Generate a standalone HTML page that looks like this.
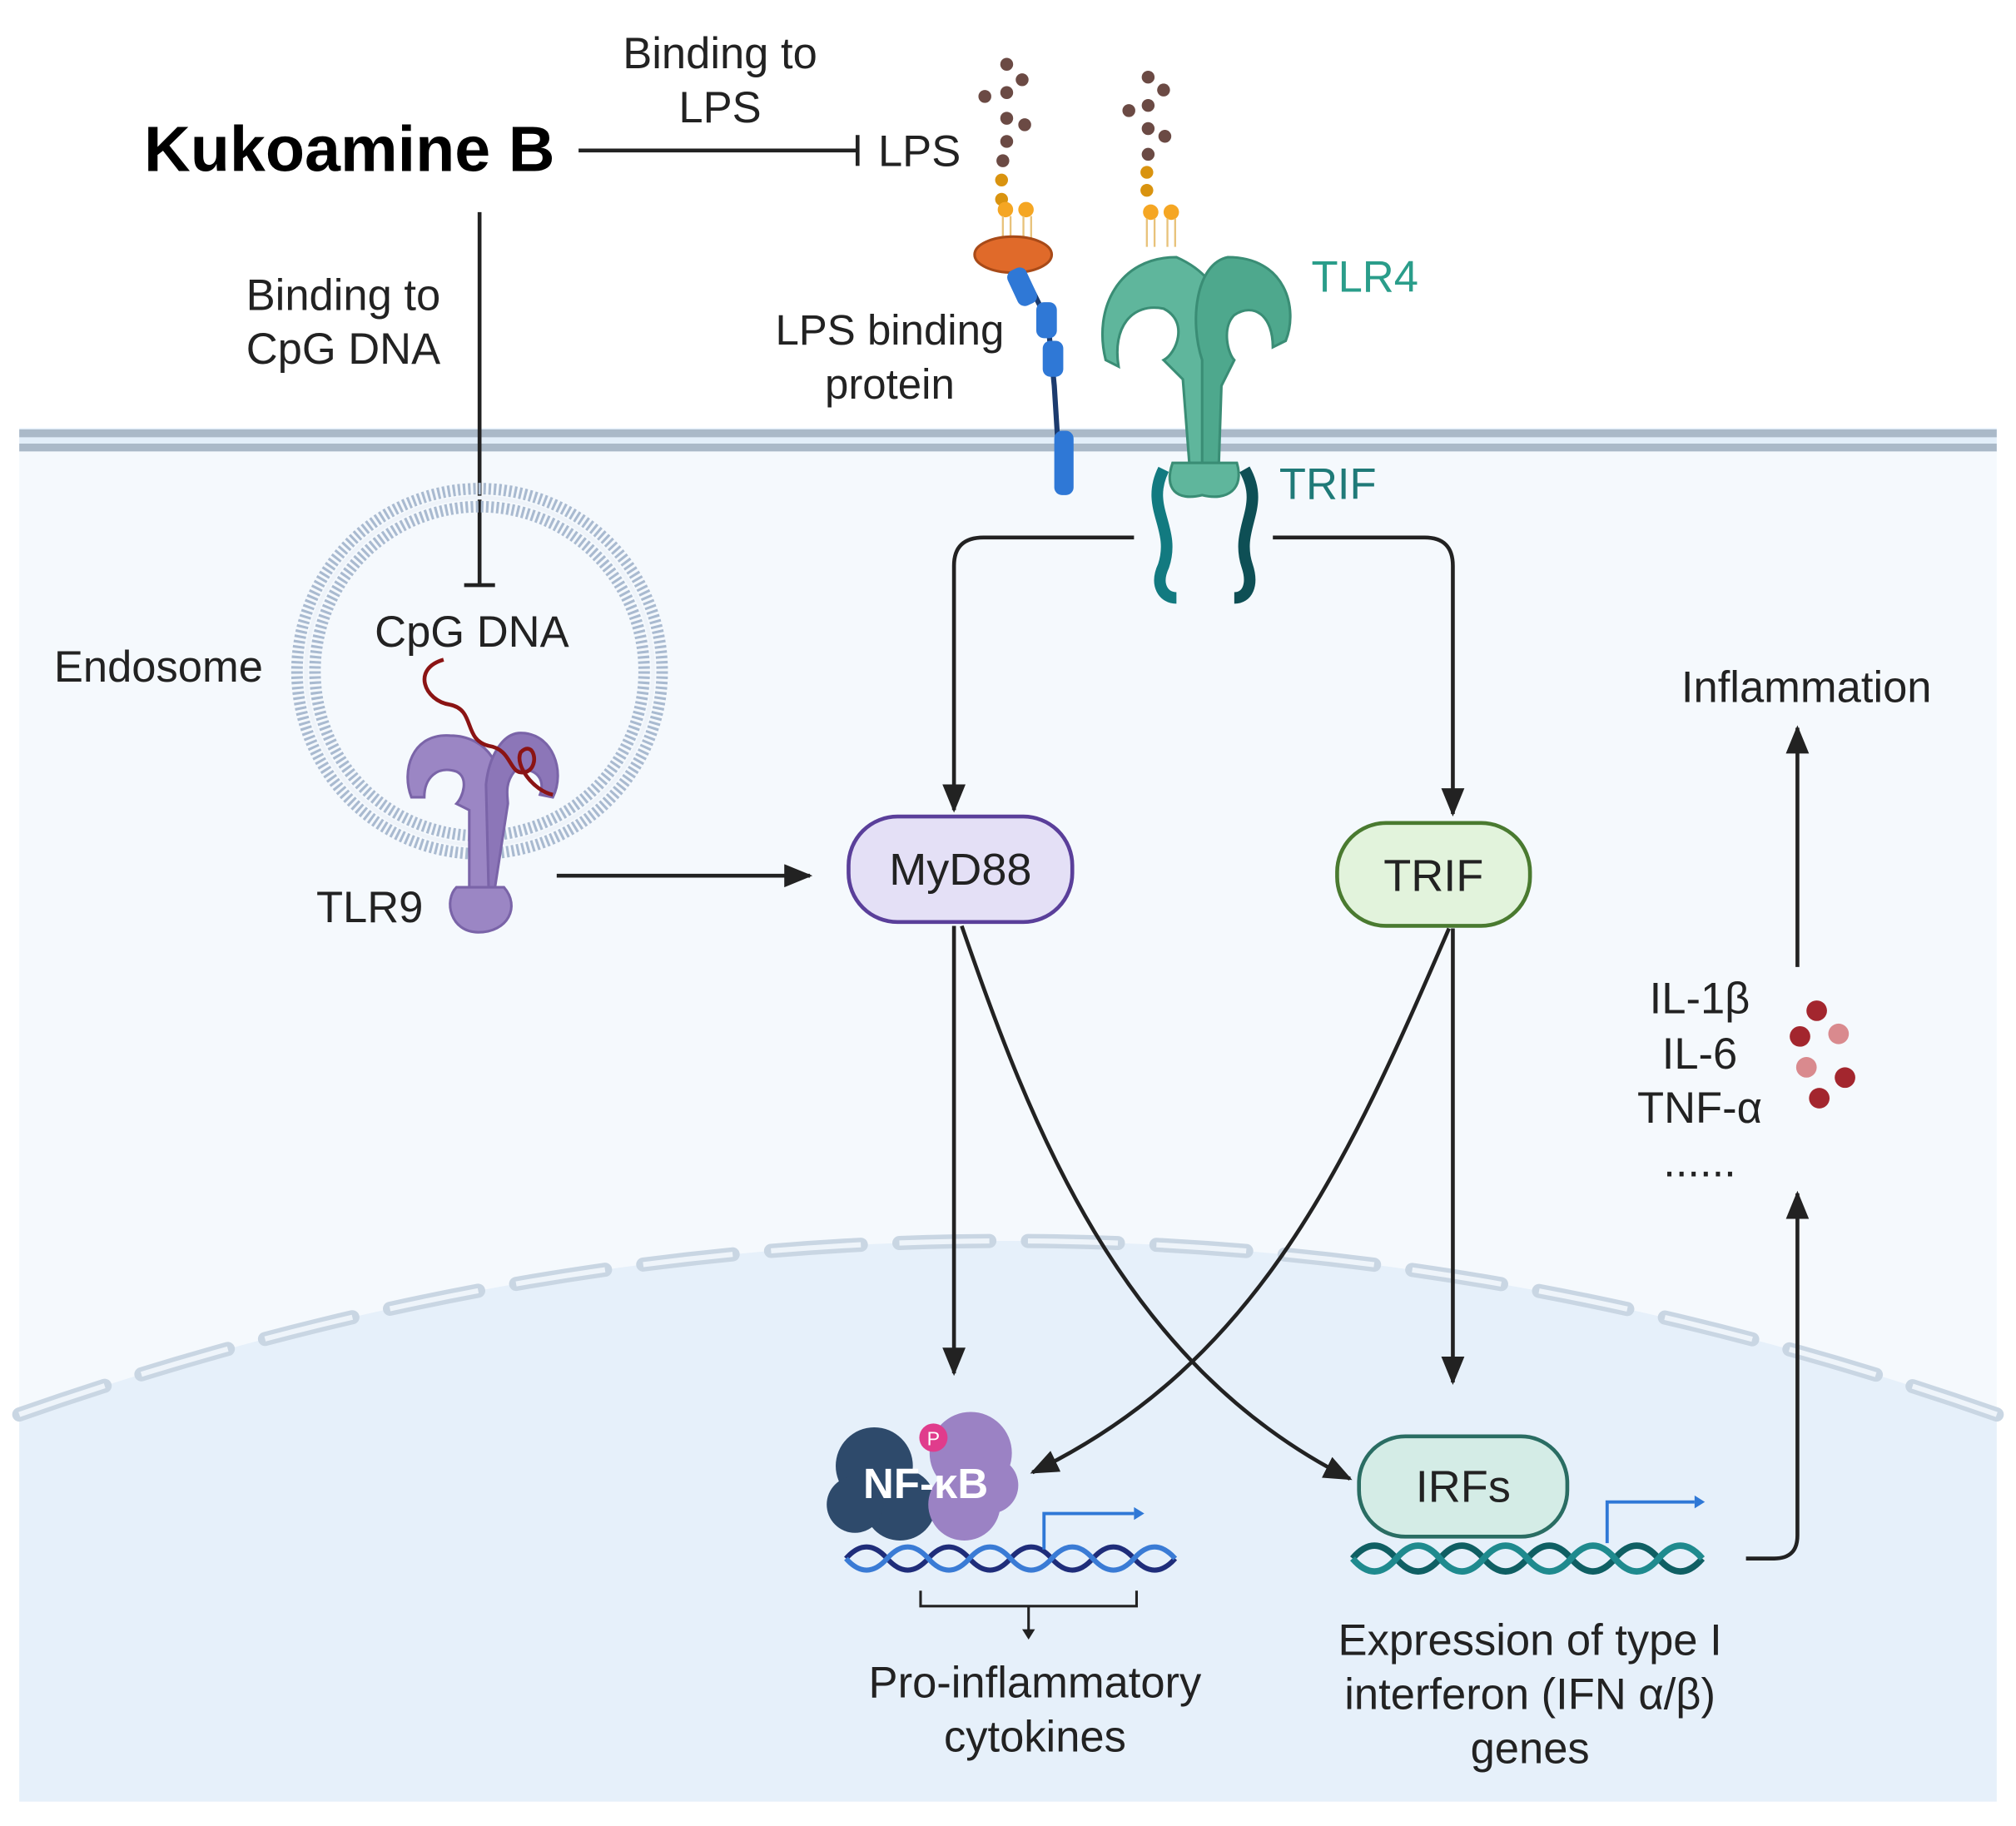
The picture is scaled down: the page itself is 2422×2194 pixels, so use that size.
<!DOCTYPE html>
<html><head><meta charset="utf-8"><style>
html,body{margin:0;padding:0;background:#fff;}
svg{display:block;}
text{font-family:"Liberation Sans",sans-serif;}
</style></head><body>
<svg width="2422" height="2194" viewBox="0 0 1568 1420" preserveAspectRatio="none" xmlns="http://www.w3.org/2000/svg" fill="#222">
<defs>
<marker id="ah2" markerWidth="22" markerHeight="18" refX="20" refY="9" orient="auto" markerUnits="userSpaceOnUse"><path d="M0,0 L22,9 L0,18 Z" fill="#222"/></marker>
</defs>
<rect width="1568" height="1420" fill="#fff"/>
<rect x="15" y="333" width="1538" height="1068" fill="#f5f9fd"/>
<path d="M15,1100 Q784,830 1553,1100 L1553,1401 L15,1401 Z" fill="#e6f0fa"/>
<path d="M15,1100 Q784,830 1553,1100" fill="none" stroke="#c9d6e3" stroke-width="11" stroke-dasharray="70,30" stroke-linecap="round"/>
<path d="M15,1100 Q784,830 1553,1100" fill="none" stroke="#eef4fa" stroke-width="4" stroke-dasharray="70,30"/>
<rect x="15" y="333" width="1538" height="18" fill="#e2eef9"/>
<line x1="15" y1="337" x2="1553" y2="337" stroke="#aab9c8" stroke-width="6"/>
<line x1="15" y1="348" x2="1553" y2="348" stroke="#aab9c8" stroke-width="6"/>

<text x="112" y="133" font-size="50" font-weight="bold" fill="#000">Kukoamine B</text>
<text x="560" y="53" font-size="34" text-anchor="middle">Binding to</text>
<text x="560" y="95" font-size="34" text-anchor="middle">LPS</text>
<line x1="450" y1="117" x2="667" y2="117" stroke="#222" stroke-width="3"/>
<line x1="667" y1="105" x2="667" y2="129" stroke="#222" stroke-width="3"/>
<text x="683" y="129" font-size="34">LPS</text>
<text x="267" y="241" font-size="34" text-anchor="middle">Binding to</text>
<text x="267" y="283" font-size="34" text-anchor="middle">CpG DNA</text>
<line x1="373" y1="165" x2="373" y2="455" stroke="#222" stroke-width="3"/>
<line x1="361" y1="455" x2="385" y2="455" stroke="#222" stroke-width="3"/>

<g>
<circle cx="783" cy="50" r="5" fill="#6b4a44"/><circle cx="795" cy="62" r="5" fill="#6b4a44"/><circle cx="783" cy="72" r="5" fill="#6b4a44"/><circle cx="766" cy="75" r="5" fill="#6b4a44"/><circle cx="783" cy="92" r="5" fill="#6b4a44"/><circle cx="797" cy="97" r="5" fill="#6b4a44"/><circle cx="783" cy="110" r="5" fill="#6b4a44"/><circle cx="780" cy="125" r="5" fill="#6b4a44"/>
<circle cx="779" cy="140" r="5" fill="#d9930f"/><circle cx="779" cy="155" r="5" fill="#d9930f"/><circle cx="782" cy="163" r="6" fill="#f5a623"/><circle cx="798" cy="163" r="6" fill="#f5a623"/>
<path d="M780,168 v20 M786,168 v20 M796,168 v20 M802,168 v20" stroke="#e8c27a" stroke-width="1.5"/>
<circle cx="893" cy="60" r="5" fill="#6b4a44"/><circle cx="905" cy="70" r="5" fill="#6b4a44"/><circle cx="893" cy="82" r="5" fill="#6b4a44"/><circle cx="878" cy="86" r="5" fill="#6b4a44"/><circle cx="893" cy="100" r="5" fill="#6b4a44"/><circle cx="906" cy="106" r="5" fill="#6b4a44"/><circle cx="893" cy="120" r="5" fill="#6b4a44"/><circle cx="892" cy="134" r="5" fill="#d9930f"/><circle cx="892" cy="148" r="5" fill="#d9930f"/><circle cx="895" cy="165" r="6" fill="#f5a623"/><circle cx="911" cy="165" r="6" fill="#f5a623"/>
<path d="M892,170 v22 M898,170 v22 M908,170 v22 M914,170 v22" stroke="#e8c27a" stroke-width="1.5"/>
</g>
<ellipse cx="788" cy="198" rx="30" ry="14" fill="#e06a2a" stroke="#a84a18" stroke-width="2"/>
<path d="M795,210 L815,250 L820,300 L825,380" stroke="#1c3b6e" stroke-width="4" fill="none"/>
<rect x="787" y="208" width="16" height="30" rx="6" fill="#2f78d6" transform="rotate(-25 795 223)"/>
<rect x="806" y="235" width="16" height="28" rx="6" fill="#2f78d6"/>
<rect x="811" y="265" width="16" height="28" rx="6" fill="#2f78d6"/>
<rect x="820" y="335" width="15" height="50" rx="6" fill="#2f78d6"/>
<text x="692" y="268" font-size="33" text-anchor="middle">LPS binding</text>
<text x="692" y="310" font-size="33" text-anchor="middle">protein</text>

<g fill="#5fb69c" stroke="#3a8d75" stroke-width="2">
<path d="M915,200 C870,200 850,240 860,280 L870,285 C865,255 880,235 905,240 C925,250 915,275 905,280 L920,295 L925,360 L945,360 L940,280 C955,260 960,220 915,200 Z"/>
<path d="M955,200 C1000,200 1010,240 1000,265 L990,270 C990,245 975,235 960,245 C950,255 955,275 960,280 L950,300 L948,360 L935,360 L935,280 C925,250 930,205 955,200 Z" fill="#4ea88d"/>
<path d="M912,360 C905,380 915,390 935,385 C955,390 968,380 962,360 Z"/>
</g>
<path d="M905,365 C890,395 915,410 905,440 C898,455 905,465 915,465" stroke="#127a80" stroke-width="9" fill="none"/>
<path d="M968,365 C985,395 960,410 970,440 C975,455 970,465 960,465" stroke="#0e4f55" stroke-width="9" fill="none"/>
<text x="1020" y="227" font-size="34" fill="#2a9d8a">TLR4</text>
<text x="995" y="388" font-size="34" fill="#1f7a78">TRIF</text>

<circle cx="373" cy="522" r="142" fill="none" stroke="#a9bad0" stroke-width="9" stroke-dasharray="2,2"/>
<circle cx="373" cy="522" r="128" fill="none" stroke="#a9bad0" stroke-width="9" stroke-dasharray="2,2"/>
<circle cx="373" cy="522" r="135" fill="none" stroke="#eef3f9" stroke-width="3"/>
<text x="42" y="530" font-size="34">Endosome</text>
<text x="367" y="503" font-size="34" text-anchor="middle">CpG DNA</text>
<g fill="#9b86c4" stroke="#7a64a8" stroke-width="2">
<path d="M350,572 C320,570 312,600 320,620 L330,620 C330,605 340,595 355,600 C365,605 360,620 355,625 L365,630 L365,690 L385,690 L385,620 C395,600 380,572 350,572 Z"/>
<path d="M405,570 C430,570 440,600 430,620 L420,618 C425,605 415,595 400,600 C392,610 395,620 395,625 L385,690 L380,690 L378,610 C380,590 390,570 405,570 Z" fill="#8c76b8"/>
<path d="M355,690 C345,700 350,725 372,725 C395,725 405,705 392,690 Z"/>
</g>
<path d="M345,513 C320,520 330,545 350,548 C370,552 360,575 380,580 C400,583 395,605 410,600 C420,595 415,575 405,585 C400,595 415,615 430,618" stroke="#8b1414" stroke-width="3" fill="none"/>
<text x="246" y="717" font-size="34">TLR9</text>
<line x1="433" y1="681" x2="630" y2="681" stroke="#222" stroke-width="3" marker-end="url(#ah2)"/>

<path d="M882,418 L765,418 Q742,418 742,440 L742,630" stroke="#222" stroke-width="3" fill="none" marker-end="url(#ah2)"/>
<path d="M990,418 L1108,418 Q1130,418 1130,440 L1130,633" stroke="#222" stroke-width="3" fill="none" marker-end="url(#ah2)"/>

<rect x="660" y="635" width="174" height="82" rx="38" fill="#e4e0f6" stroke="#5a3f9a" stroke-width="3"/>
<text x="747" y="688" font-size="35" text-anchor="middle">MyD88</text>
<rect x="1040" y="640" width="150" height="80" rx="38" fill="#e2f3dc" stroke="#4a7a30" stroke-width="3"/>
<text x="1115" y="693" font-size="35" text-anchor="middle">TRIF</text>

<line x1="742" y1="720" x2="742" y2="1068" stroke="#222" stroke-width="3" marker-end="url(#ah2)"/>
<line x1="1130" y1="722" x2="1130" y2="1075" stroke="#222" stroke-width="3" marker-end="url(#ah2)"/>
<path d="M748,720 C800,870 870,1060 1050,1150" stroke="#222" stroke-width="3" fill="none" marker-end="url(#ah2)"/>
<path d="M1127,722 C1050,900 980,1060 803,1145" stroke="#222" stroke-width="3" fill="none" marker-end="url(#ah2)"/>

<g>
<circle cx="680" cy="1140" r="30" fill="#2e4a6b"/><circle cx="700" cy="1170" r="28" fill="#2e4a6b"/><circle cx="665" cy="1170" r="22" fill="#2e4a6b"/>
<circle cx="755" cy="1130" r="32" fill="#9b82c4"/><circle cx="750" cy="1170" r="28" fill="#9b82c4"/><circle cx="770" cy="1155" r="22" fill="#9b82c4"/>
<circle cx="726" cy="1118" r="11" fill="#e03c8c"/><text x="726" y="1124" font-size="15" fill="#fff" text-anchor="middle">P</text>
<text x="720" y="1165" font-size="33" font-weight="bold" fill="#fff" text-anchor="middle">NF-κB</text>
</g>
<path d="M658,1212 q16,-18 32,0 t32,0 t32,0 t32,0 t32,0 t32,0 t32,0 t32,0" stroke="#1f2d7a" stroke-width="4" fill="none"/>
<path d="M658,1212 q16,18 32,0 t32,0 t32,0 t32,0 t32,0 t32,0 t32,0 t32,0" stroke="#3a7bd5" stroke-width="4" fill="none"/>
<path d="M812,1205 v-28 h70" stroke="#2f78d6" stroke-width="2.5" fill="none"/><path d="M882,1172 l8,5 l-8,5 Z" fill="#2f78d6"/>
<path d="M716,1237 v12 h168 v-12 M800,1249 v20" stroke="#222" stroke-width="2" fill="none"/><path d="M795,1267 l5,8 l5,-8 Z" fill="#222"/>
<text x="805" y="1320" font-size="34" text-anchor="middle">Pro-inflammatory</text>
<text x="805" y="1362" font-size="34" text-anchor="middle">cytokines</text>

<path d="M1052,1212 q17,-20 34,0 t34,0 t34,0 t34,0 t34,0 t34,0 t34,0 t34,0" stroke="#0f5f63" stroke-width="5" fill="none"/>
<path d="M1052,1212 q17,20 34,0 t34,0 t34,0 t34,0 t34,0 t34,0 t34,0 t34,0" stroke="#1f8a8e" stroke-width="5" fill="none"/>
<rect x="1057" y="1117" width="162" height="78" rx="36" fill="#d4ece6" stroke="#2a6d63" stroke-width="3"/>
<text x="1138" y="1168" font-size="35" text-anchor="middle">IRFs</text>
<path d="M1250,1200 v-32 h68" stroke="#2f78d6" stroke-width="2.5" fill="none"/><path d="M1318,1163 l8,5 l-8,5 Z" fill="#2f78d6"/>
<text x="1190" y="1287" font-size="34" text-anchor="middle">Expression of type I</text>
<text x="1190" y="1329" font-size="34" text-anchor="middle">interferon (IFN α/β)</text>
<text x="1190" y="1371" font-size="34" text-anchor="middle">genes</text>

<path d="M1358,1212 L1380,1212 Q1398,1212 1398,1194 L1398,928" stroke="#222" stroke-width="3" fill="none" marker-end="url(#ah2)"/>
<line x1="1398" y1="752" x2="1398" y2="566" stroke="#222" stroke-width="3" marker-end="url(#ah2)"/>
<text x="1405" y="546" font-size="34" text-anchor="middle">Inflammation</text>
<text x="1322" y="788" font-size="34" text-anchor="middle">IL-1β</text>
<text x="1322" y="831" font-size="34" text-anchor="middle">IL-6</text>
<text x="1322" y="873" font-size="34" text-anchor="middle">TNF-α</text>
<text x="1322" y="915" font-size="34" text-anchor="middle">......</text>
<circle cx="1413" cy="786" r="8" fill="#a3262e"/><circle cx="1400" cy="806" r="8" fill="#a3262e"/><circle cx="1430" cy="804" r="8" fill="#d98a8e"/><circle cx="1405" cy="830" r="8" fill="#d98a8e"/><circle cx="1435" cy="838" r="8" fill="#a3262e"/><circle cx="1415" cy="854" r="8" fill="#a3262e"/>
</svg>
</body></html>
